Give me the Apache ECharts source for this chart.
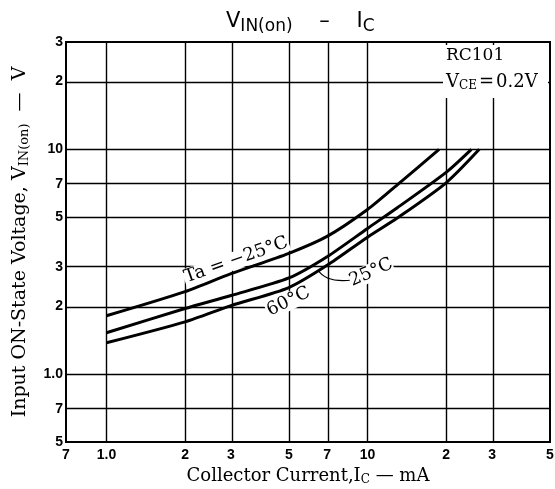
<!DOCTYPE html>
<html>
<head>
<meta charset="utf-8">
<script src="https://cdn.jsdelivr.net/npm/echarts@6/dist/echarts.min.js"></script>
<style>
  html, body { margin: 0; padding: 0; background: #fff; }
  #chart { width: 555px; height: 489px; }
</style>
</head>
<body>
<div id="chart"></div>
<script>
// collector current (mA) and input on-state voltage (V)
const icMinus25 = [1, 2, 3, 5, 7, 10, 13, 18.8]
const vMinus25 = [1.82, 2.33, 2.8, 3.45, 4.1, 5.4, 6.95, 10]
const icPlus25 = [1, 2, 3, 5, 7, 10, 13, 20, 25]
const vPlus25 = [1.53, 1.96, 2.24, 2.68, 3.33, 4.45, 5.5, 7.9, 10]
const icPlus60 = [1, 2, 3, 5, 7, 10, 13, 20, 26.8]
const vPlus60 = [1.38, 1.71, 2.02, 2.43, 3.05, 4.07, 4.95, 7.1, 10]

const xTicks = [0.7, 1, 2, 3, 5, 7, 10, 20, 30, 50]
const xTickLabels = ['7', '1.0', '2', '3', '5', '7', '10', '2', '3', '5']
const yTicks = [0.5, 0.7, 1, 2, 3, 5, 7, 10, 20, 30]
const yTickLabels = ['5', '7', '1.0', '2', '3', '5', '7', '10', '2', '3']
const xGrid = [1, 2, 3, 5, 7, 10, 20, 30]
const yGrid = [0.7, 1, 2, 3, 5, 7, 10, 20]

const lg = Math.log10
function pts(xs, ys) {
  return xs.map((x, i) => [lg(x), lg(ys[i])])
}
function labelFor(ticks, labels) {
  return function(v) {
    for (let i = 0; i < ticks.length; i++) {
      if (Math.abs(lg(ticks[i]) - v) < 1e-6) return labels[i]
    }
    return ''
  }
}

const chart = echarts.init(document.getElementById('chart'))
const curveStyle = { color: '#000', width: 3 }
const tickFont = { fontFamily: 'Liberation Sans', fontWeight: 'bold', fontSize: 14, color: '#000' }
const serif = 'DejaVu Serif'

function curve(name, xs, ys) {
  return {
    name: name,
    type: 'line',
    smooth: 0.25,
    showSymbol: false,
    lineStyle: curveStyle,
    data: pts(xs, ys)
  }
}

chart.setOption({
  animation: false,
  backgroundColor: '#fff',
  title: {
    text: 'V{s|IN(on)}    –    I{s|C}',
    left: 221,
    top: 3,
    textStyle: {
      fontFamily: 'DejaVu Sans',
      fontWeight: 'normal',
      fontSize: 21,
      color: '#000',
      rich: { s: { fontFamily: 'DejaVu Sans', fontSize: 17, padding: [10, 0, 0, 0] } }
    }
  },
  grid: {
    left: 66, right: 5, top: 42, bottom: 47,
    containLabel: false,
    outerBoundsMode: 'none',
    show: true, borderColor: '#000', borderWidth: 2
  },
  xAxis: {
    type: 'value',
    min: lg(0.7),
    max: lg(50),
    name: 'Collector Current,I{s|C} — mA',
    nameLocation: 'middle',
    nameGap: 21,
    nameTextStyle: {
      fontFamily: serif, fontSize: 18, color: '#000',
      rich: { s: { fontFamily: serif, fontSize: 12, padding: [8, 0, 0, 0] } }
    },
    axisLine: { show: false },
    axisTick: { show: false, customValues: xTicks.map(lg) },
    splitLine: { show: false },
    axisLabel: Object.assign({
      customValues: xTicks.map(lg),
      margin: 6,
      formatter: labelFor(xTicks, xTickLabels)
    }, tickFont)
  },
  yAxis: {
    type: 'value',
    min: lg(0.5),
    max: lg(30),
    name: 'Input ON-State Voltage, V{s|IN(on)}  —  V',
    nameLocation: 'middle',
    nameGap: 35,
    nameTextStyle: {
      fontFamily: serif, fontSize: 19, color: '#000',
      rich: { s: { fontFamily: serif, fontSize: 13, padding: [8, 0, 0, 0] } }
    },
    axisLine: { show: false },
    axisTick: { show: false, customValues: yTicks.map(lg) },
    splitLine: { show: false },
    axisLabel: Object.assign({
      customValues: yTicks.map(lg),
      margin: 3,
      formatter: labelFor(yTicks, yTickLabels)
    }, tickFont)
  },
  series: [
    {
      name: 'grid',
      type: 'line',
      data: [],
      silent: true,
      markLine: {
        silent: true,
        symbol: 'none',
        label: { show: false },
        lineStyle: { color: '#000', width: 1.4, type: 'solid' },
        data: xGrid.map(v => ({ xAxis: lg(v) })).concat(yGrid.map(v => ({ yAxis: lg(v) })))
      }
    },
    curve('Ta=-25°C', icMinus25, vMinus25),
    curve('25°C', icPlus25, vPlus25),
    curve('60°C', icPlus60, vPlus60)
  ],
  graphic: [
    {
      type: 'rect', z: 50,
      shape: { x: 443, y: 45, width: 105, height: 53 },
      style: { fill: '#fff' }
    },
    {
      type: 'text', z: 60, left: 446, top: 47,
      style: { text: 'RC101', font: '17px "DejaVu Serif"', fill: '#000' }
    },
    {
      type: 'text', z: 60, left: 446, top: 73,
      style: {
        text: 'V{s|CE}{e|=}0.2V',
        font: '18px "DejaVu Serif"',
        fill: '#000',
        rich: {
          s: { font: '12px "DejaVu Serif"', padding: [7, 0, 0, 0] },
          e: { font: '18px "DejaVu Serif"', padding: [0, 2] }
        }
      }
    },
    {
      type: 'text', z: 60, x: 187, y: 287, rotation: 0.34,
      style: { text: 'Ta = −25°C', font: '18px "DejaVu Serif"', fill: '#000', backgroundColor: '#fff', padding: [0, 1], textVerticalAlign: 'bottom' }
    },
    {
      type: 'text', z: 60, x: 354, y: 290, rotation: 0.42,
      style: { text: '25°C', font: '18px "DejaVu Serif"', fill: '#000', backgroundColor: '#fff', textVerticalAlign: 'bottom' }
    },
    {
      type: 'text', z: 60, x: 271, y: 320, rotation: 0.45,
      style: { text: '60°C', font: '18px "DejaVu Serif"', fill: '#000', backgroundColor: '#fff', padding: [0, 1], textVerticalAlign: 'bottom' }
    },
    {
      type: 'bezierCurve', z: 55,
      shape: { x1: 318, y1: 270, x2: 352, y2: 280, cpx1: 326, cpy1: 283 },
      style: { stroke: '#000', lineWidth: 1.2, fill: 'none' }
    }
  ]
})
</script>
</body>
</html>
